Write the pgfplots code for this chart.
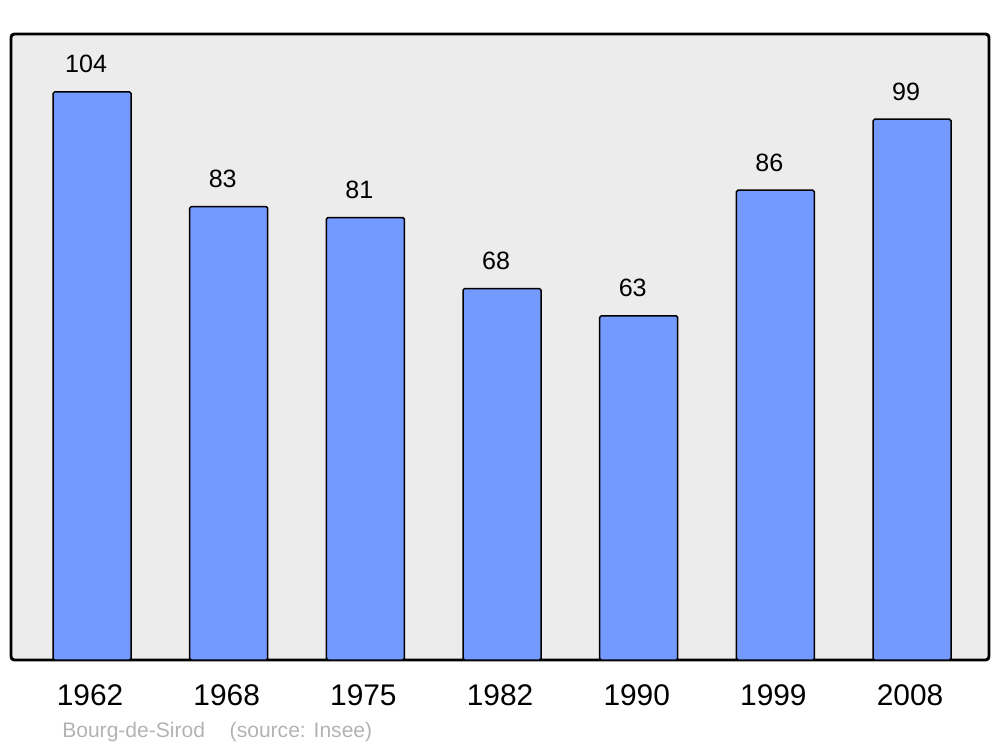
\documentclass[border=0pt]{standalone}
\usepackage{fontspec}
\setmainfont{Liberation Sans}
\usepackage{pgfplots}
\pgfplotsset{compat=1.18}
\definecolor{bgcol}{HTML}{ECECEC}
\definecolor{barcol}{HTML}{7499FF}
\definecolor{footcol}{HTML}{B3B3B3}
\begin{document}
\begin{tikzpicture}[x=0.75pt,y=0.75pt]
\path (0,0) rectangle (1000,747);
\begin{axis}[
  at={(8.25pt,65.25pt)}, anchor=south west,
  scale only axis, width=733.5pt, height=469.5pt,
  xmin=-0.593, xmax=6.563, ymin=0, ymax=114.6,
  axis line style={draw=none},
  axis background/.style={fill=bgcol, draw=black, line width=2.2pt, rounded corners=2.5pt},
  ytick=\empty,
  xtick={0,1,2,3,4,5,6},
  xticklabels={1962,1968,1975,1982,1990,1999,2008},
  xtick style={draw=none},
  xticklabel style={anchor=base, yshift=-30pt, xshift=-1.5pt, font=\fontsize{22.4}{25}\selectfont, inner sep=0pt},
  /pgf/number format/assume math mode=true,
  ybar, bar width=58.5pt, bar shift=0pt,
  nodes near coords,
  every node near coord/.append style={anchor=base, yshift=14.25pt, xshift=-4.5pt, inner sep=0pt, font=\fontsize{18.8}{21}\selectfont, text=black},
  clip=false,
]
\addplot[fill=barcol, draw=black, line width=1.1pt, rounded corners=1.2pt] coordinates {
(0,104) (1,83) (2,81) (3,68) (4,63) (5,86) (6,99)};
\end{axis}
\node[anchor=base west, inner sep=0pt, text=footcol, font=\fontsize{15.8}{18}\selectfont] at (62,10) {Bourg-de-Sirod\hspace{18.5pt}(source: Insee)};
\end{tikzpicture}
\end{document}
